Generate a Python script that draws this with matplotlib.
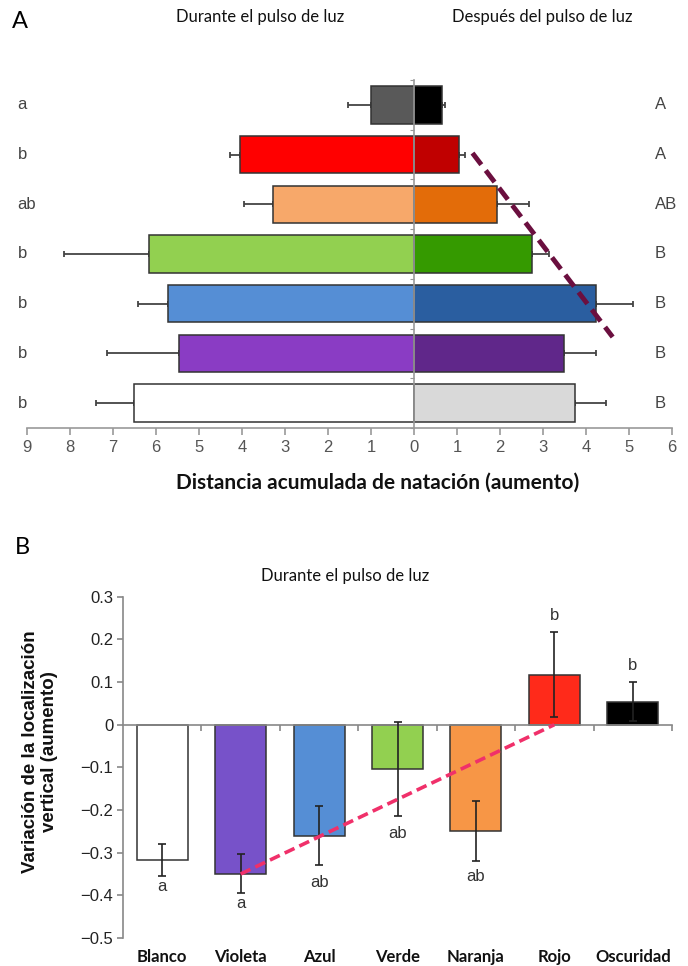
import matplotlib
matplotlib.use('Agg')
import matplotlib.pyplot as plt
import numpy as np

# ---------------- Panel A data ----------------
left_letters = ['a', 'b', 'ab', 'b', 'b', 'b', 'b']
right_letters = ['A', 'A', 'AB', 'B', 'B', 'B', 'B']
during_vals = [1.00, 4.05, 3.27, 6.16, 5.72, 5.46, 6.52]
during_err = [0.53, 0.22, 0.69, 1.98, 0.71, 1.68, 0.87]
after_vals = [0.66, 1.05, 1.94, 2.74, 4.23, 3.49, 3.74]
after_err = [0.07, 0.14, 0.73, 0.40, 0.87, 0.74, 0.73]
during_colors = ['#595959', '#FF0000', '#F7A86A', '#92D050', '#558ED5', '#8A3CC4', '#FFFFFF']
after_colors = ['#000000', '#C00000', '#E36C09', '#359A00', '#2A5EA0', '#60278A', '#D9D9D9']
a_xticks = [-9, -8, -7, -6, -5, -4, -3, -2, -1, 0, 1, 2, 3, 4, 5, 6]
a_xticklabels = ['9', '8', '7', '6', '5', '4', '3', '2', '1', '0', '1', '2', '3', '4', '5', '6']
trend_a_x = [1.36, 4.62]
trend_a_y = [0.97, 4.67]

# ---------------- Panel B data ----------------
categories = ['Blanco', 'Violeta', 'Azul', 'Verde', 'Naranja', 'Rojo', 'Oscuridad']
b_vals = [-0.317, -0.349, -0.260, -0.103, -0.250, 0.117, 0.054]
b_err = [0.037, 0.045, 0.070, 0.110, 0.070, 0.100, 0.046]
b_letters = ['a', 'a', 'ab', 'ab', 'ab', 'b', 'b']
b_letter_y = [-0.379, -0.418, -0.371, -0.254, -0.355, 0.257, 0.138]
b_colors = ['#FFFFFF', '#7752C9', '#558ED5', '#92D050', '#F79646', '#FF2A1A', '#000000']
b_yticks = [0.3, 0.2, 0.1, 0, -0.1, -0.2, -0.3, -0.4, -0.5]
b_yticklabels = ['0.3', '0.2', '0.1', '0', '\u22120.1', '\u22120.2', '\u22120.3', '\u22120.4', '\u22120.5']
trend_b_x = [1, 5]
trend_b_y = [-0.35, 0.0]

NARROW = ['Liberation Sans Narrow', 'Liberation Sans', 'DejaVu Sans']
CAL = ['Lato', 'DejaVu Sans']

W, H = 688, 966
fig = plt.figure(figsize=(W / 100, H / 100), dpi=100)

def fx(px):
    return px / W

def fy(py):
    return 1 - py / H

# ================= Panel A =================
axA = fig.add_axes([fx(27), fy(428), fx(645), 348 / H])
n = len(during_vals)
ypos = np.arange(n)
zeros = np.zeros(n)
ekw = dict(ecolor='#444444', elinewidth=1.3, capsize=2.5, capthick=1.3, zorder=2)
axA.barh(ypos, -np.array(during_vals), height=0.755, color=during_colors,
         edgecolor='#333333', linewidth=1.1, zorder=3)
axA.barh(ypos, after_vals, height=0.755, color=after_colors,
         edgecolor='#333333', linewidth=1.1, zorder=3)
axA.errorbar(-np.array(during_vals), ypos, xerr=[during_err, zeros], fmt='none', **ekw)
axA.errorbar(after_vals, ypos, xerr=[zeros, after_err], fmt='none', **ekw)
axA.set_xlim(-9, 6)
axA.set_ylim(n - 0.5, -0.5)
for s in ['top', 'right']:
    axA.spines[s].set_visible(False)
axA.spines['left'].set_position(('data', 0))
axA.spines['left'].set_color('#999999')
axA.spines['left'].set_linewidth(1.2)
axA.spines['left'].set_zorder(4)
axA.spines['bottom'].set_color('#999999')
axA.spines['bottom'].set_linewidth(1.2)
axA.set_yticks(np.arange(n + 1) - 0.5)
axA.set_yticklabels([])
axA.tick_params(axis='y', length=3, color='#999999', direction='out')
axA.set_xticks(a_xticks)
axA.set_xticklabels(a_xticklabels, fontfamily=NARROW, fontsize=12, color='#555555')
axA.tick_params(axis='x', length=5, color='#999999', width=1.2, pad=4)
for i in range(n):
    axA.text(-9.22, i, left_letters[i], ha='left', va='center', fontsize=12,
             color='#444444', fontfamily=NARROW, clip_on=False)
    axA.text(5.6, i, right_letters[i], ha='left', va='center', fontsize=12,
             color='#444444', fontfamily=NARROW, clip_on=False)
axA.plot(trend_a_x, trend_a_y, color='#6B0F3F', lw=3.5, linestyle=(0, (3, 1.5)),
         zorder=5, clip_on=False, solid_capstyle='butt')

fig.text(fx(260), fy(17), 'Durante el pulso de luz', ha='center', va='center',
         fontsize=12, fontfamily=CAL, color='#111111')
fig.text(fx(542), fy(17), 'Después del pulso de luz', ha='center', va='center',
         fontsize=12, fontfamily=CAL, color='#111111')
fig.text(fx(378), fy(483), 'Distancia acumulada de natación (aumento)', ha='center',
         va='center', fontsize=15, fontweight='bold', fontfamily=CAL, color='#111111')
fig.text(fx(20), fy(21), 'A', ha='center', va='center', fontsize=17, fontfamily=CAL)
fig.text(fx(22), fy(547), 'B', ha='center', va='center', fontsize=17, fontfamily=CAL)

# ================= Panel B =================
axB = fig.add_axes([fx(123), fy(938), fx(549), (938 - 596.7) / H])
m = len(categories)
xpos = np.arange(m)
axB.bar(xpos, b_vals, width=0.65, color=b_colors, edgecolor='#333333',
        linewidth=1.1, zorder=2)
axB.errorbar(xpos, b_vals, yerr=b_err, fmt='none', ecolor='#222222',
             elinewidth=1.2, capsize=3, capthick=1.2, zorder=3)
axB.set_xlim(-0.5, m - 0.5)
axB.set_ylim(-0.5, 0.3)
for s in ['top', 'right']:
    axB.spines[s].set_visible(False)
axB.spines['bottom'].set_position(('data', 0))
for s in ['left', 'bottom']:
    axB.spines[s].set_color('#888888')
    axB.spines[s].set_linewidth(1.2)
axB.set_xticks(xpos + 0.5)
axB.set_xticklabels([])
axB.tick_params(axis='x', length=4, color='#888888', width=1.2, direction='out')
axB.set_yticks(b_yticks)
axB.set_yticklabels(b_yticklabels, fontfamily=NARROW, fontsize=12, color='#222222')
axB.tick_params(axis='y', length=4, color='#888888', width=1.2, pad=3)
for i in range(m):
    axB.annotate(categories[i], xy=(xpos[i], 0), xycoords=('data', 'axes fraction'),
                 xytext=(0, -8), textcoords='offset points', ha='center', va='top',
                 fontsize=12, fontweight='bold', fontfamily=CAL, color='#111111',
                 annotation_clip=False)
    axB.text(xpos[i], b_letter_y[i], b_letters[i], ha='center', va='center',
             fontsize=12, fontfamily=NARROW, color='#333333')
axB.plot(trend_b_x, trend_b_y, color='#F0306A', lw=2.6, linestyle=(0, (3, 1.5)), zorder=5)

fig.text(fx(345), fy(576), 'Durante el pulso de luz', ha='center', va='center',
         fontsize=12, fontfamily=CAL, color='#111111')
fig.text(fx(40), fy(752), 'Variación de la localización\nvertical (aumento)', ha='center',
         va='center', rotation=90, fontsize=13.5, fontweight='bold',
         fontfamily=['Liberation Sans', 'DejaVu Sans'], multialignment='center',
         linespacing=1.1, color='#111111')

fig.savefig('out.png', dpi=100)
